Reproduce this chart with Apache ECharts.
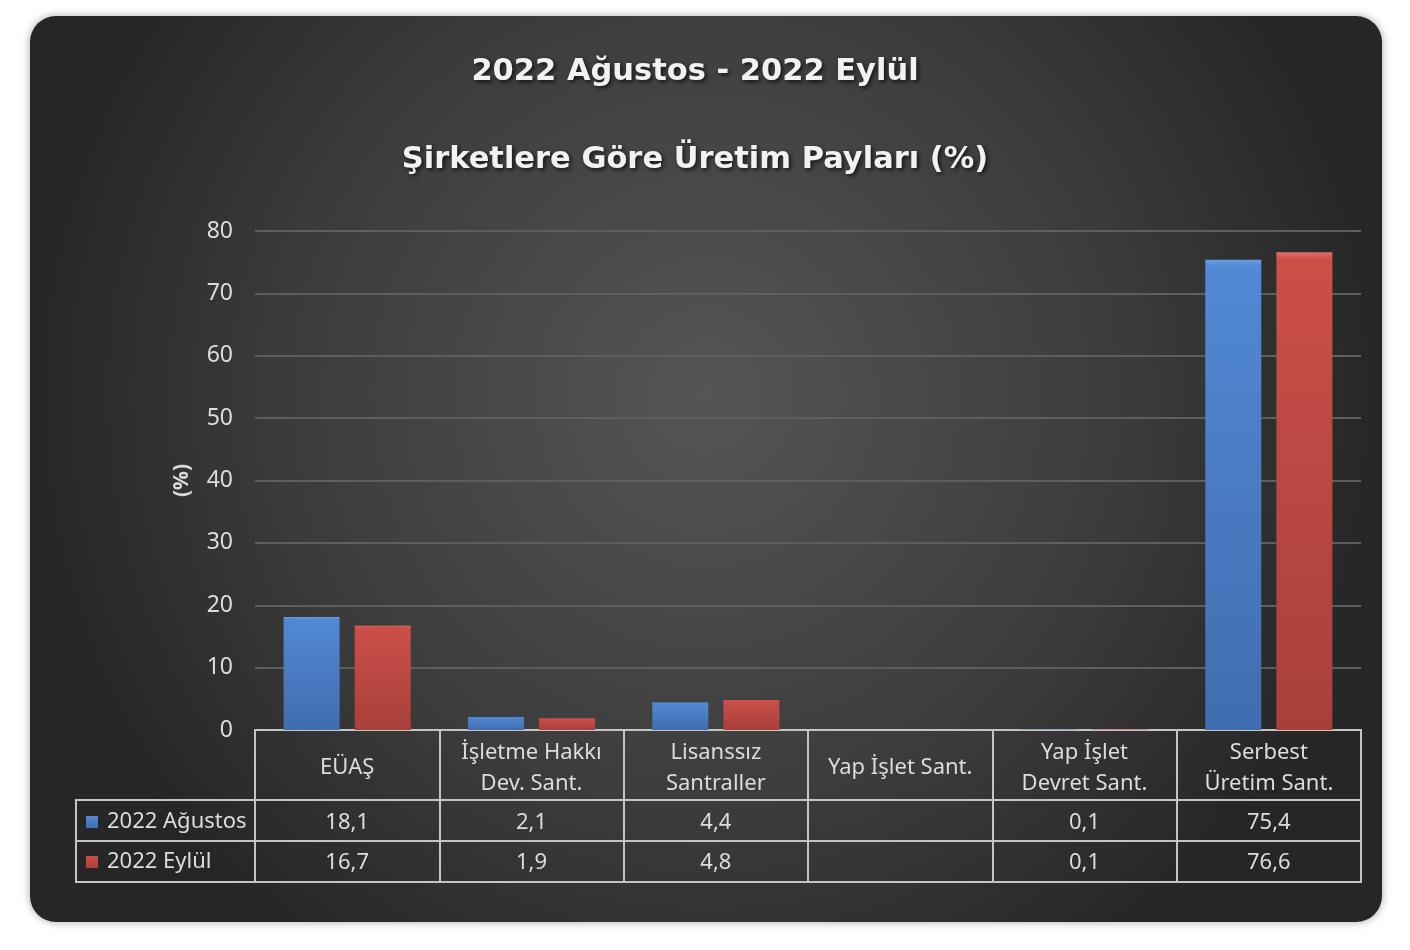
<!DOCTYPE html>
<html>
<head>
<meta charset="utf-8">
<script src="https://cdn.jsdelivr.net/npm/echarts@6/dist/echarts.min.js"></script>
<style>
html,body{margin:0;padding:0;background:#ffffff;}
#main{width:1410px;height:950px;}
</style>
</head>
<body>
<div id="main"></div>
<script>
// ---- data ----
const titleLine1 = '2022 Ağustos - 2022 Eylül';
const titleLine2 = 'Şirketlere Göre Üretim Payları (%)';
const categories = ['EÜAŞ', 'İşletme Hakkı\nDev. Sant.', 'Lisanssız\nSantraller', 'Yap İşlet Sant.', 'Yap İşlet\nDevret Sant.', 'Serbest\nÜretim Sant.'];
const seriesNames = ['2022 Ağustos', '2022 Eylül'];
const augValues = [18.1, 2.1, 4.4, null, 0.1, 75.4];
const sepValues = [16.7, 1.9, 4.8, null, 0.1, 76.6];
const yMin = 0, yMax = 80, yStep = 10;
const yAxisName = '(%)';

// ---- layout ----
const gridLeft = 255, gridRight = 1361, gridTop = 231, gridBottom = 730;
const headerH = 70, rowH = 41;
const tableLeft = 76;
const lineColor = '#c4c4c4';
const textColor = '#dcdcdc';
const font = 'Noto Sans';
const titleFont = 'DejaVu Sans';

const fmt = v => (v === null || v === undefined) ? '' : String(v).replace('.', ',');

const blueFill = new echarts.graphic.LinearGradient(0, 0, 0, 1, [
  {offset: 0, color: '#6a9ce0'},
  {offset: 0.015, color: '#5288d4'},
  {offset: 1, color: '#406daf'}
]);
const redFill = new echarts.graphic.LinearGradient(0, 0, 0, 1, [
  {offset: 0, color: '#e07068'},
  {offset: 0.015, color: '#cc4f48'},
  {offset: 1, color: '#a8403a'}
]);

const chart = echarts.init(document.getElementById('main'));

const baseX = {
  type: 'category',
  data: categories,
  position: 'bottom',
  gridIndex: 0,
  splitLine: {show: false},
  axisLine: {show: true, lineStyle: {color: lineColor, width: 2}},
  axisTick: {show: false},
};

const titleStyle = {color: '#f2f2f2', fontFamily: titleFont, fontWeight: 'bold', fontSize: 30.5,
  textShadowColor: 'rgba(0,0,0,0.7)', textShadowBlur: 4, textShadowOffsetX: 2, textShadowOffsetY: 2};

chart.setOption({
  backgroundColor: 'transparent',
  animation: false,
  graphic: [
    {
      type: 'rect', z: -100, silent: true,
      shape: {x: 30, y: 16, width: 1352, height: 906, r: 26},
      style: {
        fill: new echarts.graphic.RadialGradient(0.5, 0.42, 0.75, [
          {offset: 0, color: '#555555'},
          {offset: 0.6, color: '#3c3c3c'},
          {offset: 1, color: '#262626'}
        ]),
        shadowBlur: 8, shadowColor: 'rgba(0,0,0,0.35)'
      }
    },
    {
      type: 'polyline', silent: true, z: 10,
      shape: {points: [[gridLeft, gridBottom + headerH], [tableLeft, gridBottom + headerH], [tableLeft, gridBottom + headerH + 2 * rowH], [gridLeft, gridBottom + headerH + 2 * rowH]]},
      style: {stroke: lineColor, lineWidth: 2, fill: null}
    },
    {
      type: 'line', silent: true, z: 10,
      shape: {x1: tableLeft, y1: gridBottom + headerH + rowH, x2: gridLeft, y2: gridBottom + headerH + rowH},
      style: {stroke: lineColor, lineWidth: 2}
    }
  ],
  title: [
    {text: titleLine1, left: 690, top: 52, textAlign: 'center', textStyle: titleStyle},
    {text: titleLine2, left: 690, top: 140, textAlign: 'center', textStyle: titleStyle}
  ],
  legend: {
    orient: 'vertical',
    left: 86, top: 811, padding: 0,
    itemWidth: 12, itemHeight: 12, itemGap: 18,
    icon: 'rect',
    textStyle: {color: textColor, fontFamily: font, fontSize: 22, padding: [0, 0, 0, 4]},
    data: seriesNames
  },
  grid: {left: gridLeft, right: 1410 - gridRight, top: gridTop, bottom: 950 - gridBottom, containLabel: false},
  xAxis: [
    Object.assign({}, baseX, {
      axisTick: {show: true, length: headerH + 2 * rowH + 1, lineStyle: {color: lineColor, width: 2}},
      axisLabel: {color: textColor, fontFamily: font, fontSize: 22, lineHeight: 31, margin: 38, verticalAlign: 'middle', align: 'center', interval: 0}
    }),
    Object.assign({}, baseX, {
      offset: headerH,
      axisLabel: {color: textColor, fontFamily: font, fontSize: 22, margin: 23, verticalAlign: 'middle', interval: 0,
        formatter: (v, i) => fmt(augValues[i])}
    }),
    Object.assign({}, baseX, {
      offset: headerH + rowH,
      axisLabel: {color: textColor, fontFamily: font, fontSize: 22, margin: 22, verticalAlign: 'middle', interval: 0,
        formatter: (v, i) => fmt(sepValues[i])}
    }),
    Object.assign({}, baseX, {
      offset: headerH + 2 * rowH,
      axisLabel: {show: false}
    })
  ],
  yAxis: {
    type: 'value',
    min: yMin, max: yMax, interval: yStep,
    name: yAxisName,
    nameLocation: 'middle',
    nameRotate: 90,
    nameGap: 62,
    nameTextStyle: {color: textColor, fontFamily: font, fontSize: 21, fontWeight: 'bold'},
    axisLine: {show: false},
    axisTick: {show: false},
    axisLabel: {color: textColor, fontFamily: font, fontSize: 23, margin: 22},
    splitLine: {lineStyle: {color: '#5e5e5e', width: 2}}
  },
  series: [
    {
      name: seriesNames[0], type: 'bar', data: augValues,
      barWidth: 56, barGap: '27%',
      itemStyle: {color: blueFill}
    },
    {
      name: seriesNames[1], type: 'bar', data: sepValues,
      barWidth: 56,
      itemStyle: {color: redFill}
    }
  ]
});
</script>
</body>
</html>
